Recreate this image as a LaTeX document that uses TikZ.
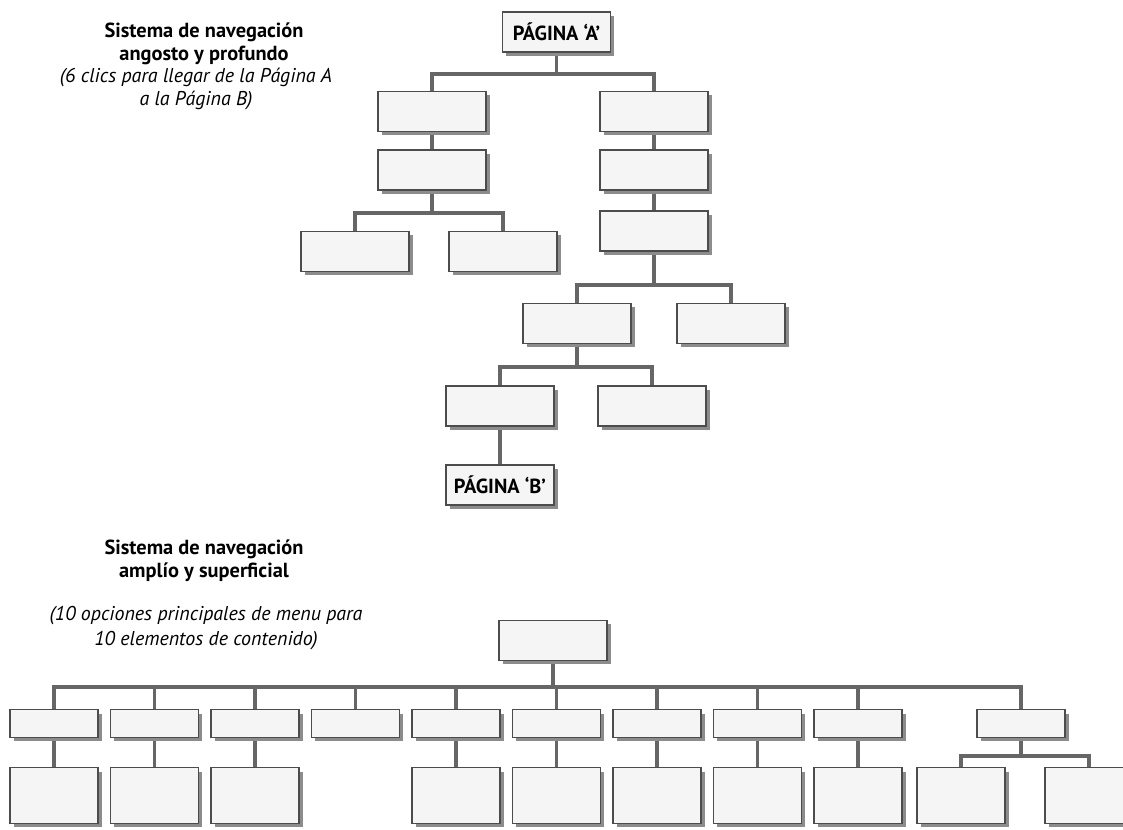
\documentclass[tikz,border=0pt]{standalone}
\usepackage{fontspec}
\setmainfont{PT Sans}
\usetikzlibrary{shadows,backgrounds}

\tikzset{
  pagebox/.style={draw=black!70, fill=black!4, line width=0.8pt, inner sep=0pt,
    minimum width=2.7cm, minimum height=1cm,
    drop shadow={shadow xshift=0.09cm, shadow yshift=-0.09cm, fill=black!45, opacity=1}},
  menubox/.style={pagebox, minimum width=2.2cm, minimum height=0.68cm},
  itembox/.style={pagebox, minimum width=2.2cm, minimum height=1.38cm},
  link/.style={draw=black!60, line width=2.2pt},
  heading/.style={font=\bfseries\fontsize{14.5}{16.3}\selectfont, align=center},
  note/.style={font=\itshape\fontsize{14.2}{16}\selectfont, align=center},
  pagelabel/.style={font=\bfseries\fontsize{14.5}{16}\selectfont}
}

\begin{document}
\begin{tikzpicture}[x=0.025cm, y=-0.025cm]
  \useasboundingbox (0,0) rectangle (1123,829);

  %% Top: narrow and deep
  \node[heading] (title1) at (204,44) {Sistema de navegación\\angosto y profundo};
  \node[note] (note1) at (196,89) {(6 clics para llegar de la Página A\\a la Página B)};

  \node[pagebox, pagelabel] (pA) at (556.5,32) {PÁGINA ‘A’};
  \node[pagebox] (l1) at (432,111.5) {};
  \node[pagebox] (r1) at (654,111.5) {};
  \node[pagebox] (l2) at (432,170) {};
  \node[pagebox] (r2) at (654,170) {};
  \node[pagebox] (l3a) at (355,251.5) {};
  \node[pagebox] (l3b) at (503,251.5) {};
  \node[pagebox] (r3) at (654,231) {};
  \node[pagebox] (r4a) at (577,323.5) {};
  \node[pagebox] (r4b) at (731,323.5) {};
  \node[pagebox] (r5a) at (500,406) {};
  \node[pagebox] (r5b) at (652,406) {};
  \node[pagebox, pagelabel] (pB) at (500,485) {PÁGINA ‘B’};

  % bus lines
  \coordinate (busA) at (0,74);
  \coordinate (busL) at (0,213);
  \coordinate (busR) at (0,285);
  \coordinate (busS) at (0,367);

  \begin{scope}[on background layer]
    \draw[link] (pA.south) |- (l1.north |- busA) -- (l1.north);
    \draw[link] (pA.south) |- (r1.north |- busA) -- (r1.north);
    \draw[link] (l1.south) -- (l2.north);
    \draw[link] (r1.south) -- (r2.north);
    \draw[link] (r2.south) -- (r3.north);
    \draw[link] (l2.south) |- (l3a.north |- busL) -- (l3a.north);
    \draw[link] (l2.south) |- (l3b.north |- busL) -- (l3b.north);
    \draw[link] (r3.south) |- (r4a.north |- busR) -- (r4a.north);
    \draw[link] (r3.south) |- (r4b.north |- busR) -- (r4b.north);
    \draw[link] (r4a.south) |- (r5a.north |- busS) -- (r5a.north);
    \draw[link] (r4a.south) |- (r5b.north |- busS) -- (r5b.north);
    \draw[link] (r5a.south) -- (pB.north);
  \end{scope}

  %% Bottom: wide and shallow
  \node[heading] (title2) at (204,561) {Sistema de navegación\\amplío y superficial};
  \node[note, font=\itshape\fontsize{14.2}{18}\selectfont] (note2) at (206,628) {(10 opciones principales de menu para\\10 elementos de contenido)};

  \node[pagebox] (root) at (553,640.5) {};
  \coordinate (busM) at (0,687);
  \coordinate (busC) at (0,756);

  \foreach \i/\x in {1/54, 2/154.5, 3/255, 4/355.5, 5/456, 6/556.5, 7/657, 8/757.5, 9/858, 10/1021}
    \node[menubox] (m\i) at (\x,723.5) {};
  \foreach \i in {1,2,3,5,6,7,8,9}
    \node[itembox] (c\i) at (m\i.center |- 0,795.5) {};
  \node[itembox] (c10a) at (961,795.5) {};
  \node[itembox] (c10b) at (1089,795.5) {};

  \begin{scope}[on background layer]
    \foreach \i in {1,...,10}
      \draw[link] (root.south) |- (m\i.north |- busM) -- (m\i.north);
    \foreach \i in {1,2,3,5,6,7,8,9}
      \draw[link] (m\i.south) -- (c\i.north);
    \draw[link] (m10.south) |- (c10a.north |- busC) -- (c10a.north);
    \draw[link] (m10.south) |- (c10b.north |- busC) -- (c10b.north);
  \end{scope}

\end{tikzpicture}
\end{document}
